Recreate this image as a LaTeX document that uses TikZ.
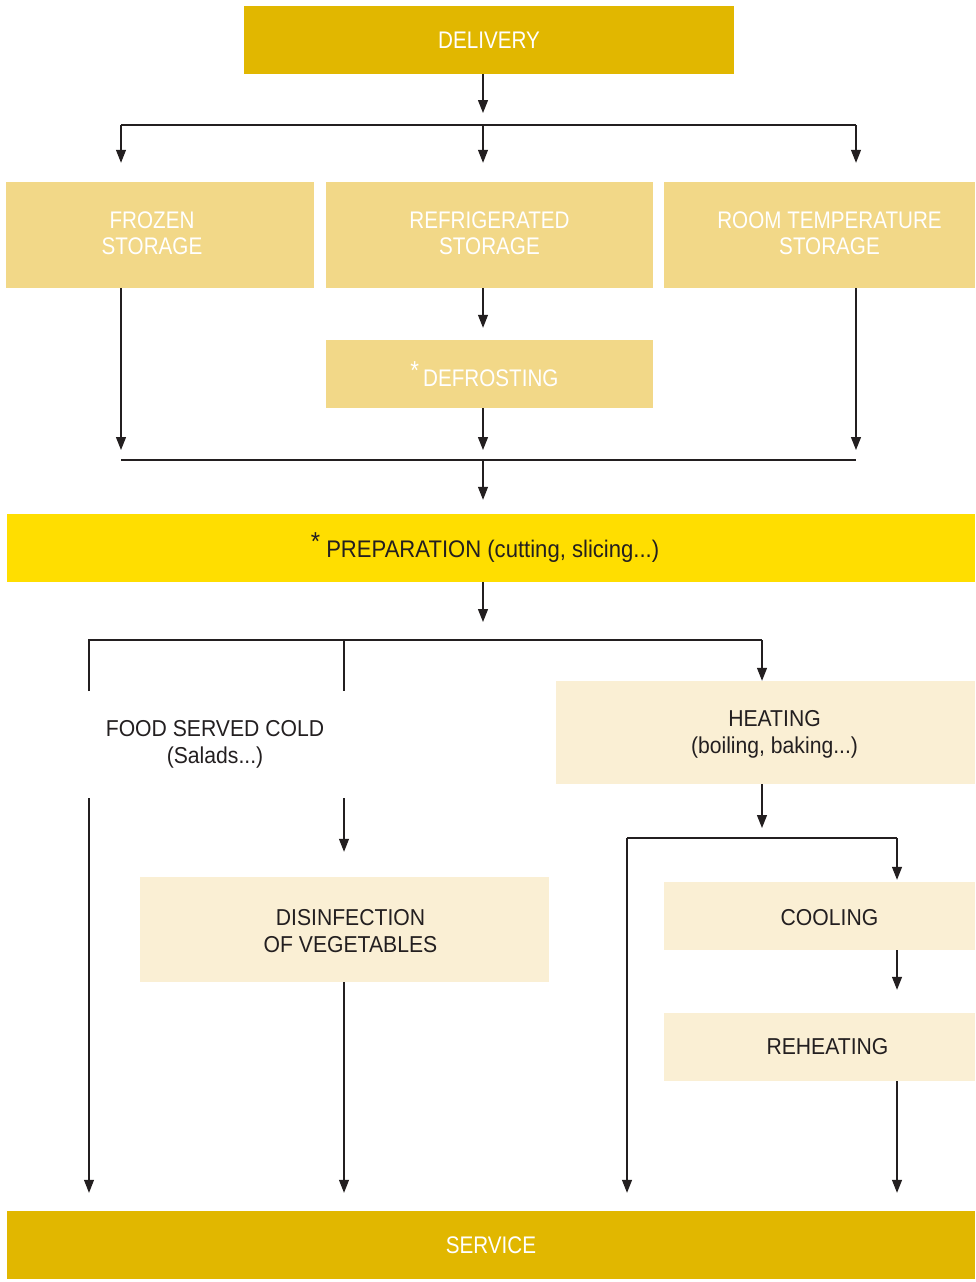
\documentclass[tikz,border=0pt]{standalone}
\usepackage{fontspec}
\setmainfont{Liberation Sans}
\newfontfamily\condf[FakeStretch=0.86]{Liberation Sans}
\newfontfamily\regf[FakeStretch=0.92]{Liberation Sans}
\usetikzlibrary{arrows.meta}
\definecolor{gold}{HTML}{E1B700}
\definecolor{lgold}{HTML}{F2D888}
\definecolor{prepy}{HTML}{FFDE00}
\definecolor{cream}{HTML}{FAEFD4}
\definecolor{ink}{HTML}{231F20}
\newcommand{\astk}{\raisebox{7pt}{\fontsize{26}{26}\selectfont *}}
\begin{document}
\begin{tikzpicture}[x=1pt,y=-1pt,
  wtext/.style={text=white,font=\condf\fontsize{24}{26}\selectfont,align=center},
  dtext/.style={text=ink,font=\regf\fontsize{23}{27}\selectfont,align=center},
  darkbox/.style={fill=gold,wtext,inner sep=0pt},
  storebox/.style={fill=lgold,inner sep=0pt},
  prepbox/.style={fill=prepy,inner sep=0pt},
  creambox/.style={fill=cream,inner sep=0pt},
  ln/.style={draw=ink,line width=1.2pt},
  arr/.style={ln,-{Triangle[width=10pt,length=13pt]}}
]
\useasboundingbox (0,0) rectangle (975,1282);

% boxes
\node[darkbox,minimum width=490pt,minimum height=68pt] (delivery) at (489,40) {DELIVERY};
\node[storebox,minimum width=308pt,minimum height=106pt,
  label={[wtext,xshift=-8pt,yshift=2pt]center:FROZEN\\STORAGE}] (frozen) at (160,235) {};
\node[storebox,minimum width=327pt,minimum height=106pt,
  label={[wtext,yshift=2pt]center:REFRIGERATED\\STORAGE}] (refrig) at (489.5,235) {};
\node[storebox,minimum width=311pt,minimum height=106pt,
  label={[wtext,xshift=10pt,yshift=2pt]center:ROOM TEMPERATURE\\STORAGE}] (room) at (819.5,235) {};
\node[storebox,minimum width=327pt,minimum height=68pt,
  label={[wtext,xshift=-5pt]center:\astk\,DEFROSTING}] (defrost) at (489.5,374) {};
\node[prepbox,minimum width=968pt,minimum height=68pt,
  label={[dtext,font=\regf\fontsize{24}{26}\selectfont,xshift=-6pt]center:\astk\ PREPARATION (cutting, slicing...)}] (prep) at (491,548) {};
\node[dtext,inner sep=0pt] (cold) at (215,744) {FOOD SERVED COLD\\(Salads...)};
\node[creambox,minimum width=419pt,minimum height=103pt,
  label={[dtext,xshift=9pt,yshift=-2pt]center:HEATING\\(boiling, baking...)}] (heating) at (765.5,732.5) {};
\node[creambox,minimum width=409pt,minimum height=105pt,
  label={[dtext,xshift=6pt,yshift=-2pt]center:DISINFECTION\\OF VEGETABLES}] (disinf) at (344.5,929.5) {};
\node[creambox,minimum width=311pt,minimum height=68pt,
  label={[dtext,xshift=10pt,yshift=-2pt]center:COOLING}] (cooling) at (819.5,916) {};
\node[creambox,minimum width=311pt,minimum height=68pt,
  label={[dtext,xshift=8pt]center:REHEATING}] (reheat) at (819.5,1047) {};
\node[darkbox,minimum width=968pt,minimum height=68pt] (service) at (491,1245) {SERVICE};

% junction coordinates
\coordinate (d1) at (483,113);
\coordinate (bL) at (121,125);
\coordinate (bM) at (483,125);
\coordinate (bR) at (856,125);
\coordinate (cL) at (121,460);
\coordinate (cM) at (483,460);
\coordinate (cR) at (856,460);
\coordinate (p1) at (483,622);
\coordinate (eL) at (89,640);
\coordinate (eM) at (344,640);
\coordinate (eR) at (762,640);
\coordinate (fL) at (89,691);
\coordinate (fM) at (344,691);
\coordinate (gL) at (89,798);
\coordinate (gM) at (344,798);
\coordinate (h1) at (762,828);
\coordinate (kL) at (627,838);
\coordinate (kR) at (897,838);

% connectors
\draw[arr] (delivery.south -| d1) -- (d1);
\draw[ln] (bL) -- (bR);
\draw[arr] (bL) -- ([yshift=19pt]bL |- frozen.north);
\draw[arr] (bM) -- ([yshift=19pt]bM |- refrig.north);
\draw[arr] (bR) -- ([yshift=19pt]bR |- room.north);

\draw[arr] (frozen.south -| cL) -- ([yshift=10pt]cL);
\draw[arr] (refrig.south -| cM) -- ([yshift=12pt]cM |- defrost.north);
\draw[arr] (defrost.south -| cM) -- ([yshift=10pt]cM);
\draw[arr] (room.south -| cR) -- ([yshift=10pt]cR);
\draw[ln] (cL) -- (cR);
\draw[arr] (cM) -- ([yshift=14pt]cM |- prep.north);

\draw[arr] (prep.south -| p1) -- (p1);
\draw[ln] (fL) -- (eL) -- (eR);
\draw[ln] (eM) -- (fM);
\draw[arr] (eR) -- (eR |- heating.north);

\draw[arr] (gL) -- ([yshift=18pt]gL |- service.north);
\draw[arr] (gM) -- ([yshift=25pt]gM |- disinf.north);
\draw[arr] (disinf.south -| gM) -- ([yshift=18pt]gM |- service.north);

\draw[arr] (heating.south -| h1) -- (h1);
\draw[ln] (kL) -- (kR);
\draw[arr] (kR) -- ([yshift=2pt]kR |- cooling.north);
\draw[arr] (kL) -- ([yshift=18pt]kL |- service.north);
\draw[arr] (cooling.south -| kR) -- ([yshift=23pt]kR |- reheat.north);
\draw[arr] (reheat.south -| kR) -- ([yshift=18pt]kR |- service.north);
\end{tikzpicture}
\end{document}
